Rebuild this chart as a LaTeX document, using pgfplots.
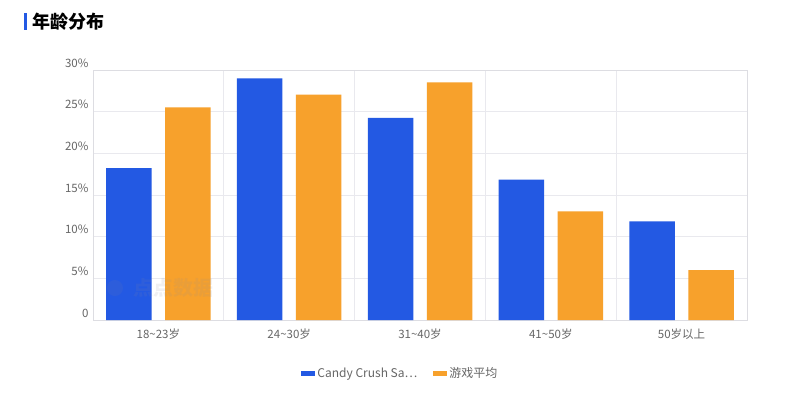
\documentclass[border=0pt]{standalone}
\usepackage{pgfplots}
\pgfplotsset{compat=1.18}
\usepackage{fontspec}
\setmainfont{Noto Sans CJK SC}
\definecolor{cblue}{HTML}{2359E3}
\definecolor{corange}{HTML}{F7A12C}
\definecolor{gridc}{HTML}{E9E9EE}
\definecolor{axisc}{HTML}{DDDDE2}
\definecolor{tickc}{HTML}{666666}
\definecolor{wm}{HTML}{8A8A9A}
\begin{document}
\begin{tikzpicture}[x=1pt,y=1pt]
\path[fill=white] (0,0) rectangle (791,399);
\fill[cblue] (24,369) rectangle (27,386);
\node[anchor=west, inner sep=0pt, font=\fontsize{18}{20}\selectfont\bfseries] at (32,377.5) {年龄分布};
\begin{axis}[
  at={(158.4pt,79pt)}, anchor=origin,
  width=654pt, height=250pt, scale only axis,
  xmin=-0.5, xmax=4.5, ymin=0, ymax=30,
  ybar, bar width=45.5pt,
  xtick={0,...,4},
  xticklabels={18\textasciitilde 23岁,24\textasciitilde 30岁,31\textasciitilde 40岁,41\textasciitilde 50岁,50岁以上},
  ytick={0,5,10,15,20,25,30},
  yticklabels={0,5\%,10\%,15\%,20\%,25\%,30\%},
  minor xtick={0.5,1.5,2.5,3.5},
  xminorgrids, ymajorgrids,
  grid style={draw=gridc, line width=0.8pt},
  minor grid style={draw=gridc, line width=0.8pt},
  axis line style={draw=axisc, line width=0.8pt},
  major tick length=0pt, minor tick length=0pt,
  tick style={draw=none},
  ticklabel style={font=\fontsize{11.5}{13}\selectfont, text=tickc},
  xticklabel style={yshift=-5pt},
  yticklabel style={xshift=-1pt, yshift=7pt},
  legend style={at={(0.47,-0.212)}, anchor=center, draw=none, fill=none,
    font=\fontsize{12}{14}\selectfont, text=tickc, legend columns=2,
    /tikz/every even column/.append style={column sep=14pt}},
  legend image code/.code={\fill[#1] (0pt,-2.5pt) rectangle (14pt,2.5pt);},
]
\addplot[fill=cblue, draw=none, bar shift=-29.5pt] coordinates {(0,18.24) (1,29.0) (2,24.24) (3,16.84) (4,11.84)};
\addlegendentry{Candy Crush Sa\ldots}
\addplot[fill=corange, draw=none, bar shift=29.5pt] coordinates {(0,25.52) (1,27.04) (2,28.52) (3,13.04) (4,6.0)};
\addlegendentry{游戏平均}
\node[text=wm, text opacity=0.12, font=\fontsize{20}{22}\selectfont\bfseries] at (axis cs:0.119,3.84) {点点数据};
\fill[wm, opacity=0.10] (axis cs:-0.332,3.84) circle (8pt);
\end{axis}
\end{tikzpicture}
\end{document}
